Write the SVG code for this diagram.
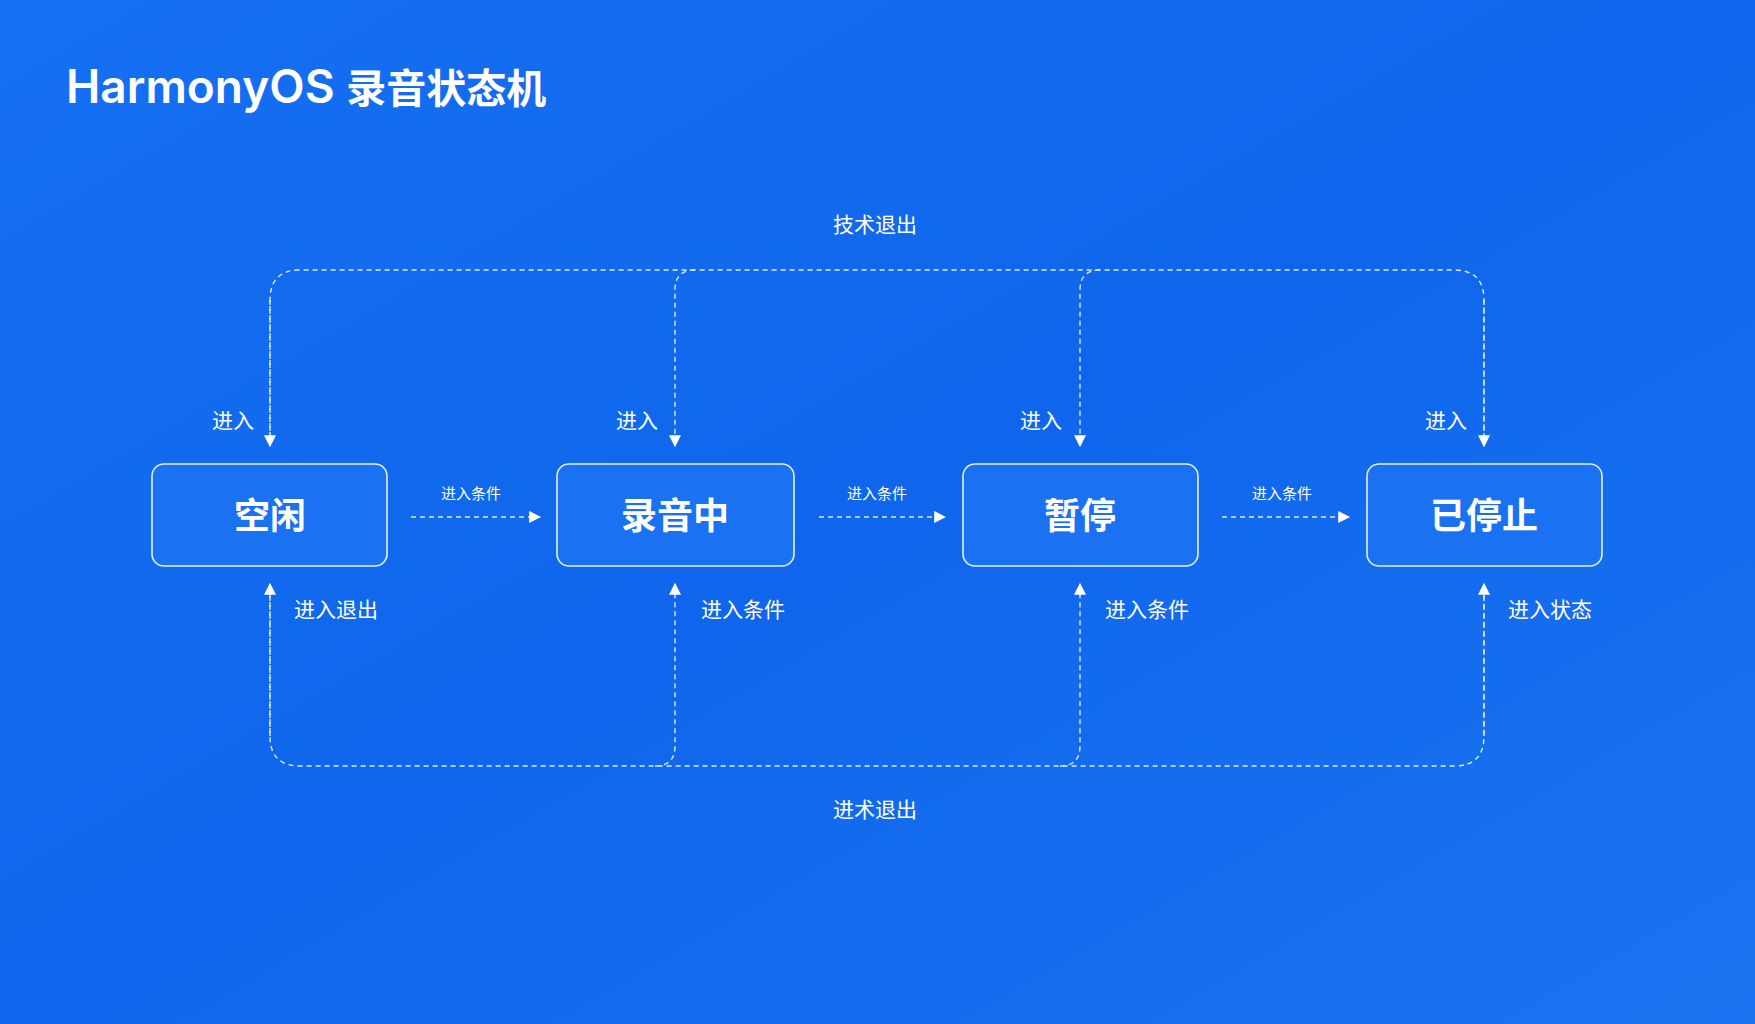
<svg xmlns="http://www.w3.org/2000/svg" width="1755" height="1024" viewBox="0 0 1755 1024">
<defs>
<linearGradient id="bg" x1="0" y1="0" x2="1" y2="1"><stop offset="0" stop-color="#1670f2"/><stop offset="0.5" stop-color="#0f66ec"/><stop offset="1" stop-color="#1a74f0"/></linearGradient>
<marker id="ah" viewBox="0 0 10 10" refX="9" refY="5" markerWidth="12" markerHeight="12" markerUnits="userSpaceOnUse" orient="auto"><path d="M0,0 L10,5 L0,10 z" fill="#fff"/></marker>
<style>
.n rect{fill:#1a72f2;stroke:#e6f0ff;stroke-width:1.6}
.n text{font-family:"Noto Sans CJK SC",sans-serif;font-weight:700;font-size:36px;fill:#fff;text-anchor:middle}
.c{fill:none;stroke:#dfeaff;stroke-width:1.4;stroke-dasharray:5 4}
.a{marker-end:url(#ah)}
.l{font-family:"Noto Sans CJK SC",sans-serif;fill:#fff;font-size:21px}
.s{font-size:15px;text-anchor:middle}
</style>
</defs>
<rect width="1755" height="1024" fill="url(#bg)"/>
<text x="66" y="103" font-family="Inter,'Noto Sans CJK SC',sans-serif" font-weight="600" font-size="46" fill="#fff">HarmonyOS <tspan font-family="'Noto Sans CJK SC',sans-serif" font-weight="700" font-size="40">录音状态机</tspan></text>
<g id="connectors">
<path class="c" d="M270,446 V300 Q270,270 300,270 H1454 Q1484,270 1484,300 V446" />
<path class="c a" d="M270,300 V446"/>
<path class="c a" d="M695,270 Q675,270 675,290 V446"/>
<path class="c a" d="M1100,270 Q1080,270 1080,290 V446"/>
<path class="c a" d="M1484,300 V446"/>
<path class="c" d="M270,584 V736 Q270,766 300,766 H1454 Q1484,766 1484,736 V584"/>
<path class="c a" d="M270,736 V584"/>
<path class="c a" d="M655,766 Q675,766 675,746 V584"/>
<path class="c a" d="M1060,766 Q1080,766 1080,746 V584"/>
<path class="c a" d="M1484,736 V584"/>
<path class="c a" d="M411,517 H540"/>
<path class="c a" d="M819,517 H945"/>
<path class="c a" d="M1222,517 H1349"/>
</g>
<g id="labels">
<text class="l" x="875" y="232" text-anchor="middle">技术退出</text>
<text class="l" x="875" y="817" text-anchor="middle">进术退出</text>
<text class="l" x="212" y="428">进入</text>
<text class="l" x="616" y="428">进入</text>
<text class="l" x="1020" y="428">进入</text>
<text class="l" x="1425" y="428">进入</text>
<text class="l" x="294" y="617">进入退出</text>
<text class="l" x="701" y="617">进入条件</text>
<text class="l" x="1105" y="617">进入条件</text>
<text class="l" x="1508" y="617">进入状态</text>
<text class="l s" x="471" y="499">进入条件</text>
<text class="l s" x="877" y="499">进入条件</text>
<text class="l s" x="1282" y="499">进入条件</text>
</g>
<g id="n1" class="n"><rect x="152" y="464" width="235" height="102" rx="12"/><text x="270" y="529">空闲</text></g>
<g id="n2" class="n"><rect x="557" y="464" width="237" height="102" rx="12"/><text x="675" y="529">录音中</text></g>
<g id="n3" class="n"><rect x="963" y="464" width="235" height="102" rx="12"/><text x="1080" y="529">暂停</text></g>
<g id="n4" class="n"><rect x="1367" y="464" width="235" height="102" rx="12"/><text x="1484" y="529">已停止</text></g>
</svg>
